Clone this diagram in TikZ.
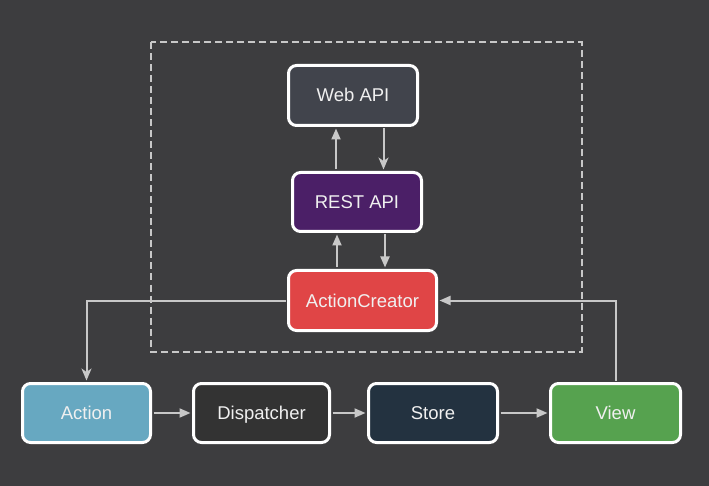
\documentclass[tikz,border=0pt]{standalone}
\usepackage{fontspec}
\setmainfont{Liberation Sans}
\usetikzlibrary{arrows.meta}
\definecolor{bg}{HTML}{3D3D3F}
\definecolor{linec}{HTML}{C8C8C8}
\definecolor{webc}{HTML}{41444C}
\definecolor{restc}{HTML}{4B1F67}
\definecolor{acc}{HTML}{E04546}
\definecolor{actc}{HTML}{67A8C1}
\definecolor{dispc}{HTML}{333333}
\definecolor{storec}{HTML}{233240}
\definecolor{viewc}{HTML}{56A24F}
\tikzset{
  box/.style={draw=white, line width=3pt, rounded corners=8pt, text=white!94!black,
    font=\fontsize{18.5}{21}\selectfont, inner sep=0pt, text height=13pt, text depth=0pt},
  arr/.style={draw=linec, line width=2pt, shorten >=1.5pt, shorten <=1.5pt,
    -{Triangle[length=11pt,width=9pt]}},
  arrv/.style={draw=linec, line width=2pt, shorten >=1.5pt, shorten <=1.5pt,
    -{Stealth[length=12pt,width=10pt,inset=3.5pt]}},
}
\begin{document}
\begin{tikzpicture}[x=1pt,y=-1pt]
\fill[bg] (0,0) rectangle (709,486);
\useasboundingbox (0,0) rectangle (709,486);
\draw[linec, line width=2pt, dash pattern=on 7pt off 4pt] (151,42.5) rectangle (581.5,351.5);

\node[box, fill=webc, minimum width=129pt, minimum height=60pt] (web) at (353,95.5) {Web API};
\node[box, fill=restc, minimum width=129pt, minimum height=59pt] (rest) at (357,202) {REST API};
\node[box, fill=acc, minimum width=148pt, minimum height=60pt] (ac) at (362.5,300.5) {ActionCreator};
\node[box, fill=actc, minimum width=128pt, minimum height=59pt] (action) at (86.5,413) {Action};
\node[box, fill=dispc, minimum width=136pt, minimum height=59pt] (disp) at (261.5,413) {Dispatcher};
\node[box, fill=storec, minimum width=129pt, minimum height=59pt] (store) at (433,413) {Store};
\node[box, fill=viewc, minimum width=130pt, minimum height=59pt] (view) at (615.5,413) {View};

\draw[arr] (rest.north -| 336,0) -- (web.south -| 336,0);
\draw[arrv] (web.south -| 383.5,0) -- (rest.north -| 383.5,0);
\draw[arr] (ac.north -| 337,0) -- (rest.south -| 337,0);
\draw[arr] (rest.south -| 385,0) -- (ac.north -| 385,0);

\draw[arrv] (ac.west) -| (action.north);
\draw[arr] (view.north) |- (ac.east);

\draw[arr] (action.east) -- (disp.west);
\draw[arr] (disp.east) -- (store.west);
\draw[arr] (store.east) -- (view.west);
\end{tikzpicture}
\end{document}
